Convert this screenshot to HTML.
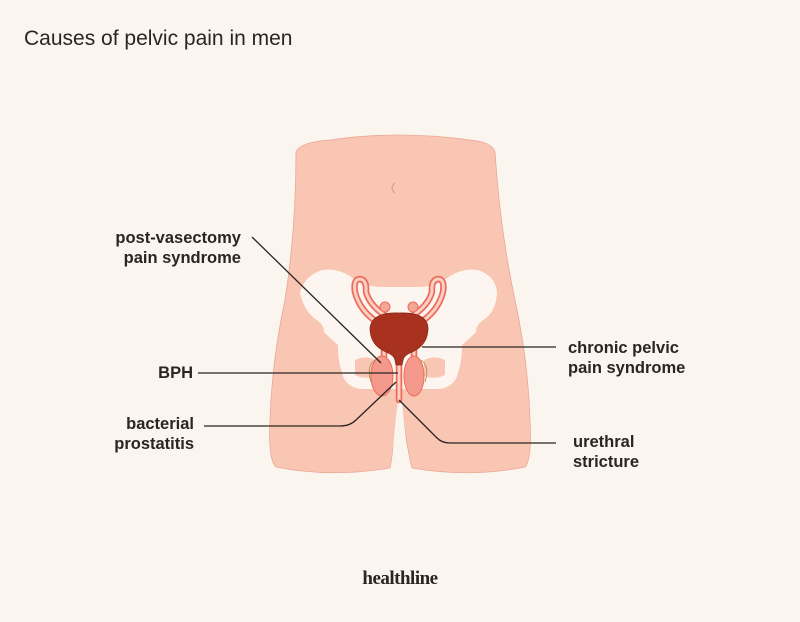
<!DOCTYPE html>
<html><head><meta charset="utf-8"><style>
html,body{margin:0;padding:0}
body{width:800px;height:622px;background:#fbf5ef;position:relative;overflow:hidden;font-family:"Liberation Sans",sans-serif;color:#2a2522}
.t{position:absolute;left:24px;top:27px;font-size:21px}
.l{position:absolute;font-weight:bold;font-size:16.5px;line-height:20px}
.r{text-align:right}
.hl{position:absolute;left:0;width:800px;top:568px;text-align:center;font-family:"Liberation Serif",serif;font-weight:bold;font-size:19px;letter-spacing:-0.5px}
</style></head><body>
<svg width="800" height="622" style="position:absolute;left:0;top:0">
<path d="M296 152 Q300 142 330 140 Q400 130 470 140 Q492 142 495 152 Q500 230 515 300 Q528 360 530 420 Q532 460 525 467 Q470 478 412 468 Q405 440 402 400 L398 400 Q395 440 390 468 Q330 478 276 467 Q268 460 270 420 Q272 360 285 300 Q296 230 296 152 Z" fill="#f8c6b3" stroke="#e9a895" stroke-width="0.8"/>
<path d="M398 400 Q393 440 392 468 L408 468 Q406 440 402 400 Z" fill="#fbf5ef"/>
<path d="M395 183 Q389 188 395 193" fill="none" stroke="#d9a090" stroke-width="1.2"/>
<path d="M300 293 Q304 276 322 270 Q338 268 350 276 Q362 286 380 287 L420 287 Q438 286 450 276 Q462 268 478 270 Q496 276 497 293 Q496 310 486 318 Q476 324 476 332 Q468 340 462 345 Q462 362 458 372 Q456 386 440 389 L360 389 Q344 386 342 372 Q338 362 338 345 Q332 340 324 332 Q324 324 314 318 Q304 310 300 293 Z" fill="#fdf6f0"/>
<path d="M355 360 Q365 355 376 360 L376 376 Q365 380 355 375 Z M445 360 Q435 355 424 360 L424 376 Q435 380 445 375 Z" fill="#f8c6b3"/>
<g fill="none" stroke="#ec6b5b" stroke-width="6.5" stroke-linecap="round">
<path d="M380 324 Q360 312 355 292 Q353 279 360 279 Q367 280 366 292 Q370 306 386 316"/>
<path d="M418 324 Q438 312 443 292 Q445 279 438 279 Q431 280 432 292 Q428 306 412 316"/>
<path d="M384 350 L384 366 M414 350 L414 366 M399 358 L399 400"/>
</g>
<g fill="none" stroke="#fbd0c2" stroke-width="3" stroke-linecap="round">
<path d="M380 324 Q360 312 355 292 Q353 279 360 279 Q367 280 366 292 Q370 306 386 316"/>
<path d="M418 324 Q438 312 443 292 Q445 279 438 279 Q431 280 432 292 Q428 306 412 316"/>
<path d="M384 350 L384 366 M414 350 L414 366 M399 358 L399 400"/>
</g>
<circle cx="385" cy="307" r="5" fill="#f4a596" stroke="#ec6b5b"/>
<circle cx="413" cy="307" r="5" fill="#f4a596" stroke="#ec6b5b"/>
<path d="M370 328 Q372 312 399 313 Q427 312 428 328 Q428 345 412 352 Q404 355 403 360 L402 365 L396 365 L395 360 Q394 355 386 352 Q370 345 370 328 Z" fill="#a8321f" stroke="#8c2a1a" stroke-width="0.8"/>
<ellipse cx="382" cy="376" rx="11" ry="20" fill="#f4998c" stroke="#ec6b5b"/>
<ellipse cx="414" cy="376" rx="10" ry="20" fill="#f4998c" stroke="#ec6b5b"/>
<path d="M375 360 Q366 366 371 382" fill="none" stroke="#b59a60" stroke-width="1"/>
<path d="M421 360 Q430 366 425 382" fill="none" stroke="#b59a60" stroke-width="1"/>
<g fill="none" stroke="#2a2522" stroke-width="1.3">
<path d="M252 237 L381 363"/>
<path d="M198 373 L398 373"/>
<path d="M422 347 L556 347"/>
<path d="M204 426 L340 426 Q350 426 356 420 L396 382"/>
<path d="M399 400 L437 438 Q442 443 450 443 L556 443"/>
</g>
</svg>
<div class="t">Causes of pelvic pain in men</div>
<div class="l r" style="right:559px;top:228px">post-vasectomy<br>pain syndrome</div>
<div class="l r" style="right:607px;top:363px">BPH</div>
<div class="l r" style="right:606px;top:414px">bacterial<br>prostatitis</div>
<div class="l" style="left:568px;top:338px">chronic pelvic<br>pain syndrome</div>
<div class="l" style="left:573px;top:432px">urethral<br>stricture</div>
<div class="hl">healthline</div>
</body></html>
